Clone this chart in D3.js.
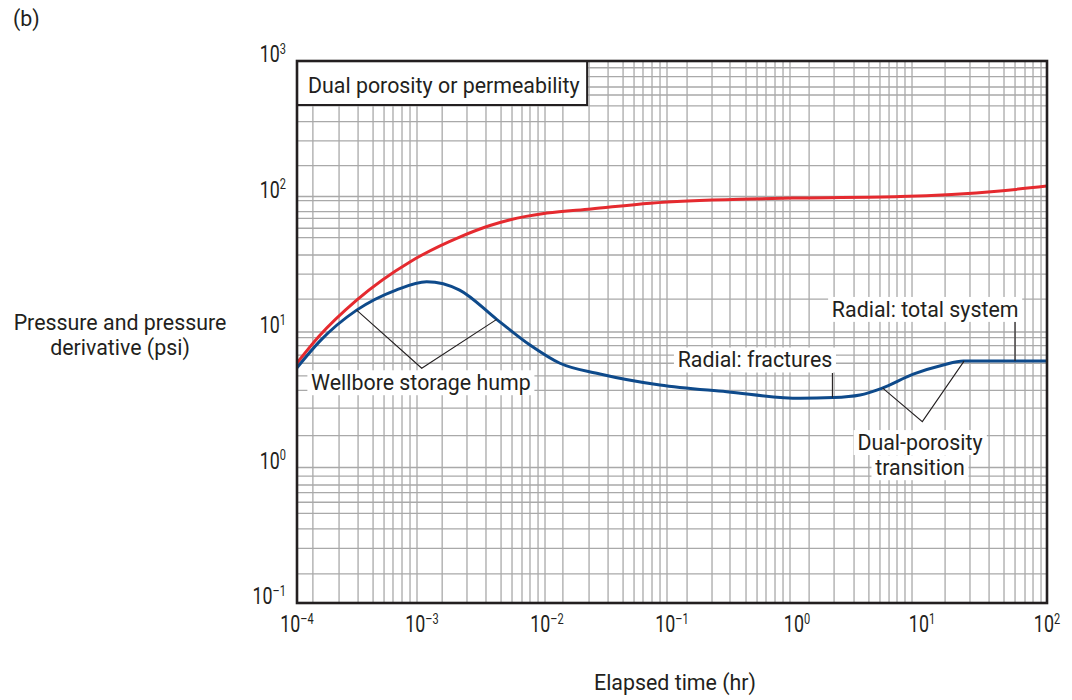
<!DOCTYPE html>
<html>
<head>
<meta charset="utf-8">
<script src="https://cdn.jsdelivr.net/npm/d3@7"></script>
<style>
  body { margin: 0; background: #fff; }
  svg text { font-family: Roboto, "Liberation Sans", sans-serif; fill: #231f20; }
</style>
</head>
<body>
<svg id="chart" width="1072" height="700"></svg>
<script>
// Axis decades and their exponent labels
const xTickValues = [1e-4, 1e-3, 1e-2, 1e-1, 1e0, 1e1, 1e2];
const xTickExponents = ["\u20134", "\u20133", "\u20132", "\u20131", "0", "1", "2"];
const yTickValues = [1e-1, 1e0, 1e1, 1e2, 1e3];
const yTickExponents = ["\u20131", "0", "1", "2", "3"];

// Minor grid lines of the log-log paper (hours)
const xGridValues = [
  1.34e-4, 2.17e-4, 3.08e-4, 4.06e-4, 4.97e-4, 5.86e-4, 6.92e-4, 8.02e-4, 9.12e-4,
  1.45e-3, 2.29e-3, 3.25e-3, 4.29e-3, 5.25e-3, 6.31e-3, 7.31e-3, 8.48e-3, 9.64e-3,
  1.34e-2, 2.17e-2, 3.08e-2, 4.06e-2, 4.97e-2, 5.86e-2, 6.92e-2, 8.02e-2, 9.12e-2,
  0.132, 0.209, 0.291, 0.391, 0.479, 0.565, 0.667, 0.773, 0.879,
  1.25, 1.98, 2.86, 3.76, 4.61, 5.45, 6.31, 7.31, 8.32,
  15.3, 24.2, 34.4, 45.3, 55.5, 66.7, 77.3, 89.6
];
// Grid lines of the pressure axis (psi)
const yGridValues = [
  892, 766, 643, 561, 466, 357, 257, 169,
  100, 93.1, 77.3, 69.0, 58.3, 49.7, 37.0, 26.7, 17.5,
  10, 9.08, 7.92, 6.76, 5.88, 4.74, 3.71, 2.74, 1.72,
  1, 0.865, 0.743, 0.652, 0.554, 0.459, 0.352, 0.253, 0.164
];

// Pressure curve (red)
const pressureTime = [1e-4, 1.5e-4, 3.0e-4, 8.0e-4, 1.0e-3, 2.0e-3, 3.5e-3, 5.0e-3, 1.0e-2, 2.25e-2, 6.7e-2, 0.42, 1.06, 6.7, 42, 100];
const pressure     = [5.9,  9.3,    17.2,   32.9,   37.0,   50.2,   61.1,   67.1,   75.5,   81,      89.3,   95.9, 97.6, 100, 110, 119.4];

// Pressure derivative curve (blue)
const derivTime = [1e-4, 1.53e-4, 3.0e-4, 6.2e-4, 1.09e-3, 2.0e-3, 3.96e-3, 7.31e-3, 1.27e-2, 2.65e-2, 0.08, 0.274, 1.06, 1.95, 3.19, 4.76, 8.51, 14.8, 21.4, 40, 100];
const derivative = [5.45, 8.6,    14.5,   20.4,   23.5,    20.4,   12.4,    8.02,    5.88,    4.9,     4.06, 3.62,  3.24, 3.28, 3.43, 3.84, 4.88, 5.71, 6.1,  6.1, 6.1];

// Leader lines for the annotations (time, psi)
const humpLeader  = [[3.0e-4, 14.5], [9.95e-4, 5.4], [3.96e-3, 12.4]];
const dualLeader  = [[4.85, 3.85], [10.06, 2.18], [21.7, 6.1]];
const fracLeader  = [[1.92, 4.98], [1.92, 3.29]];
const totalLeader = [[55.5, 11.9], [55.5, 6.1]];

// Annotation text anchors (time, psi at baseline)
const noteText = ["Wellbore storage hump", "Radial: fractures", "Radial: total system", "Dual-porosity", "transition"];
const noteTime = [9.8e-4, 0.461, 10.6, 9.64, 9.64];
const notePsi  = [3.73, 5.49, 12.97, 1.35, 0.88];

const svg = d3.select("#chart");
const plotLeft = 297, plotRight = 1047, plotTop = 61, plotBottom = 603;

const x = d3.scaleLog().domain([1e-4, 1e2]).range([plotLeft, plotRight]);
const y = d3.scaleLog().domain([1e-1, 1e3]).range([plotBottom, plotTop]);

const SX = 0.93;      // horizontal squeeze for a condensed look
const FS = 23;

function label(parent, px, py, str, anchor, size, sx) {
  const g = parent.append("g").attr("transform", `translate(${px},${py}) scale(${sx},1)`);
  const t = g.append("text").attr("text-anchor", anchor).attr("font-size", size).text(str);
  return { g, t };
}

// Grid
const grid = svg.append("g");
grid.selectAll("line.vx").data(xGridValues).join("line")
  .attr("x1", d => x(d)).attr("x2", d => x(d))
  .attr("y1", plotTop).attr("y2", plotBottom)
  .attr("stroke", "#a9a9a9").attr("stroke-width", 1.3);
grid.selectAll("line.hy").data(yGridValues).join("line")
  .attr("x1", plotLeft).attr("x2", plotRight)
  .attr("y1", d => y(d)).attr("y2", d => y(d))
  .attr("stroke", "#a9a9a9").attr("stroke-width", 1.3);

// Title box in the top-left corner
const titleBox = svg.append("g");
const titleRect = titleBox.append("rect").attr("fill", "#fff").attr("stroke", "#231f20").attr("stroke-width", 2);
const tt = label(titleBox, plotLeft + 11, plotTop + 32, "Dual porosity or permeability", "start", FS, SX);
const tw = tt.t.node().getBBox().width * SX;
titleRect.attr("x", plotLeft).attr("y", plotTop).attr("width", tw + 18).attr("height", 44);

// Curves
const line = d3.line().x(d => x(d[0])).y(d => y(d[1])).curve(d3.curveMonotoneX);
svg.append("path").datum(d3.zip(pressureTime, pressure))
  .attr("d", line).attr("fill", "none").attr("stroke", "#e52a2f").attr("stroke-width", 3);
svg.append("path").datum(d3.zip(derivTime, derivative))
  .attr("d", line).attr("fill", "none").attr("stroke", "#0e4a8b").attr("stroke-width", 3);

// Leader lines
const straight = d3.line().x(d => x(d[0])).y(d => y(d[1]));
[humpLeader, dualLeader, fracLeader, totalLeader].forEach(pts => {
  svg.append("path").attr("d", straight(pts)).attr("fill", "none")
    .attr("stroke", "#231f20").attr("stroke-width", 1.1);
});

// Annotation texts on white backing
noteText.forEach((s, i) => {
  const l = label(svg, x(noteTime[i]), y(notePsi[i]), s, "middle", FS, SX);
  const bb = l.t.node().getBBox();
  l.g.insert("rect", "text")
    .attr("x", bb.x - 4).attr("y", bb.y + 2).attr("width", bb.width + 8).attr("height", bb.height - 2)
    .attr("fill", "#fff");
});

// Frame
svg.append("rect").attr("x", plotLeft).attr("y", plotTop)
  .attr("width", plotRight - plotLeft).attr("height", plotBottom - plotTop)
  .attr("fill", "none").attr("stroke", "#231f20").attr("stroke-width", 2.6);

// Tick labels
function powerLabel(px, py, exp, anchor) {
  const g = svg.append("g").attr("transform", `translate(${px},${py}) scale(0.76,1)`);
  const t = g.append("text").attr("text-anchor", anchor).attr("font-size", 23.5);
  t.append("tspan").text("10");
  t.append("tspan").attr("font-size", 14.5).attr("dy", -8.5).text(exp);
}
xTickValues.forEach((v, i) => powerLabel(x(v), 632, xTickExponents[i], "middle"));
yTickValues.forEach((v, i) => powerLabel(286, y(v) + 1, yTickExponents[i], "end"));

// Axis titles
label(svg, 120, 330, "Pressure and pressure", "middle", FS, SX);
label(svg, 120, 355, "derivative (psi)", "middle", FS, SX);
label(svg, 675, 690, "Elapsed time (hr)", "middle", FS, SX);
label(svg, 13, 26, "(b)", "start", FS, SX);
</script>
</body>
</html>
